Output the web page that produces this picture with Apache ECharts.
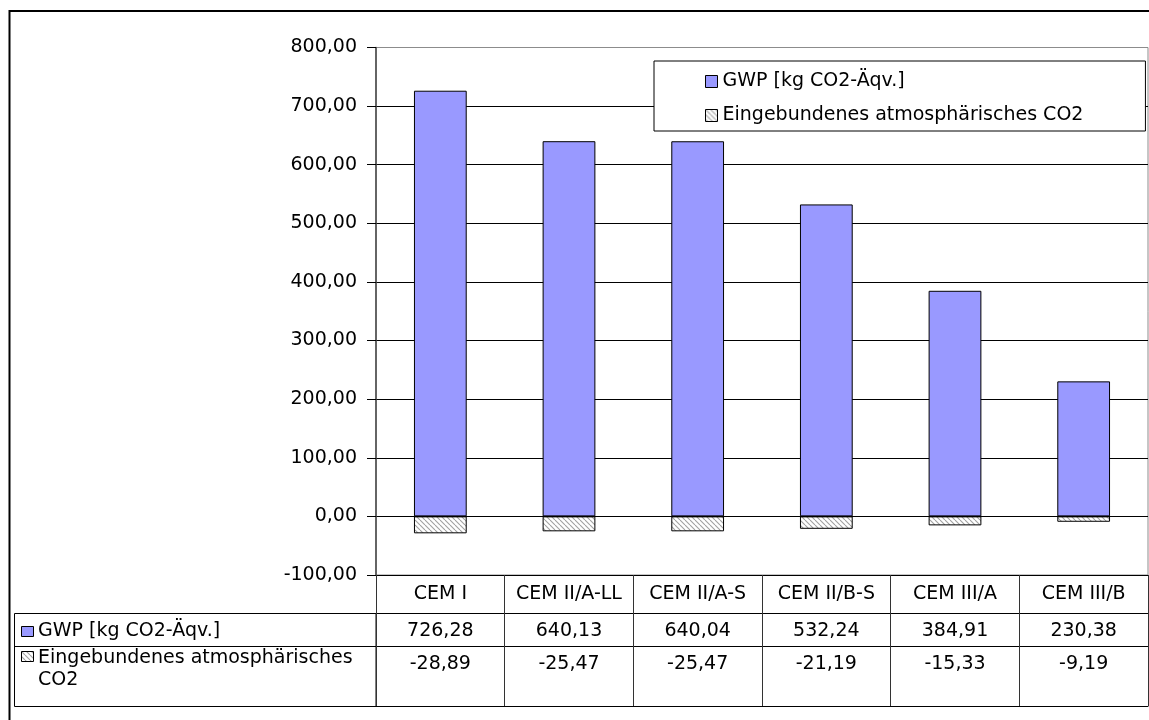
<!DOCTYPE html>
<html>
<head>
<meta charset="utf-8">
<script src="https://cdn.jsdelivr.net/npm/echarts@6/dist/echarts.min.js"></script>
<style>
  html, body { margin: 0; padding: 0; background: #fff; }
  #chart { width: 1149px; height: 720px; }
</style>
</head>
<body>
<div id="chart"></div>
<script>
// Cement types and their emission figures
const categories = ['CEM I', 'CEM II/A-LL', 'CEM II/A-S', 'CEM II/B-S', 'CEM III/A', 'CEM III/B'];
const gwpName = 'GWP [kg CO2-Äqv.]';
const co2Name = 'Eingebundenes atmosphärisches CO2';
const co2RowLabel = 'Eingebundenes atmosphärisches\nCO2';
const gwpValues = [726.28, 640.13, 640.04, 532.24, 384.91, 230.38];
const co2Values = [-28.89, -25.47, -25.47, -21.19, -15.33, -9.19];
const yMin = -100;
const yMax = 800;
const yStep = 100;

const FONT = 'DejaVu Sans';
const FS = 19;
const fmt = v => v.toFixed(2).replace('.', ',');

// Diagonal hatch used for the bound CO2 series
function hatchPattern() {
  const s = 5;
  const c = document.createElement('canvas');
  c.width = s; c.height = s;
  const g = c.getContext('2d');
  g.fillStyle = '#ffffff';
  g.fillRect(0, 0, s, s);
  g.strokeStyle = '#a0a0a0';
  g.lineWidth = 1.1;
  for (const k of [-s, 0, s]) {
    g.beginPath();
    g.moveTo(k, 0);
    g.lineTo(k + s, s);
    g.stroke();
  }
  return { image: c, repeat: 'repeat' };
}
const hatch = hatchPattern();
const gwpColor = '#9999ff';

const chart = echarts.init(document.getElementById('chart'), null, { renderer: 'canvas' });

// grid geometry (plot area) and data-table row offsets below it
const gridLeft = 376, gridTop = 47.5, gridRight = 1, gridBottom = 145;
const tableTop = 720 - gridBottom;
const rowOffsets = [38, 71, 131];

const nSplit = Math.round((yMax - yMin) / yStep) + 1;
const splitColors = [];
for (let i = 0; i < nSplit; i++) splitColors.push(i === nSplit - 1 ? '#8c8c8c' : '#000000');

const valueAxisBase = {
  type: 'category',
  data: categories,
  position: 'bottom',
  gridIndex: 0,
  axisLine: { show: true, onZero: false, lineStyle: { color: '#000', width: 1 } },
  axisTick: { show: false },
  axisLabel: { interval: 0, color: '#000', fontSize: FS, fontFamily: FONT }
};

const option = {
  animation: false,
  textStyle: { fontFamily: FONT, color: '#000' },
  grid: {
    left: gridLeft, top: gridTop, right: gridRight, bottom: gridBottom,
    show: true, borderColor: '#8c8c8c', borderWidth: 1, backgroundColor: '#fff'
  },
  legend: {
    orient: 'vertical',
    left: 654, top: 61,
    padding: [11, 62, 6, 51],
    itemGap: 15,
    itemWidth: 12, itemHeight: 12,
    icon: 'rect',
    backgroundColor: '#fff',
    borderColor: '#000', borderWidth: 1,
    textStyle: { fontSize: FS, fontFamily: FONT, color: '#000' },
    data: [
      { name: gwpName, itemStyle: { color: gwpColor, borderColor: '#000', borderWidth: 1 } },
      { name: co2Name, itemStyle: { color: hatch, borderColor: '#000', borderWidth: 1 } }
    ]
  },
  xAxis: [
    {
      type: 'category',
      data: categories,
      position: 'bottom',
      axisLine: { show: true, onZero: false, lineStyle: { color: '#000', width: 1 } },
      axisTick: { show: true, length: rowOffsets[2], lineStyle: { color: '#333', width: 1 } },
      axisLabel: { interval: 0, margin: 10, color: '#000', fontSize: FS, fontFamily: FONT },
      splitLine: { show: false }
    },
    Object.assign({}, valueAxisBase, {
      offset: rowOffsets[0],
      axisLabel: Object.assign({}, valueAxisBase.axisLabel, {
        margin: 9, formatter: (v, i) => fmt(gwpValues[i])
      })
    }),
    Object.assign({}, valueAxisBase, {
      offset: rowOffsets[1],
      axisLabel: Object.assign({}, valueAxisBase.axisLabel, {
        margin: 9, formatter: (v, i) => fmt(co2Values[i])
      })
    }),
    Object.assign({}, valueAxisBase, {
      offset: rowOffsets[2],
      axisLabel: { show: false }
    })
  ],
  yAxis: {
    type: 'value',
    min: yMin, max: yMax, interval: yStep,
    axisLine: { show: true, lineStyle: { color: '#444', width: 1.5 } },
    axisTick: { show: true, length: 9, lineStyle: { color: '#000' } },
    axisLabel: { margin: 19, color: '#000', fontSize: FS, fontFamily: FONT, formatter: v => fmt(v) },
    splitLine: { show: true, lineStyle: { color: splitColors, width: 1 } }
  },
  series: [
    {
      name: gwpName, type: 'bar', stack: 'total', barWidth: '41%',
      xAxisIndex: 0, data: gwpValues,
      itemStyle: { color: gwpColor, borderColor: '#000', borderWidth: 1 }
    },
    {
      name: co2Name, type: 'bar', stack: 'total', barWidth: '41%',
      xAxisIndex: 0, data: co2Values,
      itemStyle: { color: hatch, borderColor: '#000', borderWidth: 1 }
    }
  ],
  graphic: [
    // outer chart frame
    { type: 'rect', silent: true, z: 100,
      shape: { x: 9.5, y: 11, width: 1200, height: 800 },
      style: { fill: null, stroke: '#000', lineWidth: 2 } },
    // row header cells of the data table
    { type: 'rect', silent: true,
      shape: { x: 14.5, y: tableTop + rowOffsets[0] + 0.5, width: gridLeft - 14.5, height: rowOffsets[2] - rowOffsets[0] },
      style: { fill: null, stroke: '#000', lineWidth: 1 } },
    { type: 'line', silent: true,
      shape: { x1: 14.5, y1: tableTop + rowOffsets[1] + 0.5, x2: gridLeft, y2: tableTop + rowOffsets[1] + 0.5 },
      style: { stroke: '#000', lineWidth: 1 } },
    { type: 'rect', silent: true,
      shape: { x: 21.5, y: 626.5, width: 12, height: 10 },
      style: { fill: gwpColor, stroke: '#000', lineWidth: 1 } },
    { type: 'text', silent: true,
      style: { x: 38, y: 631.5, text: gwpName, fontSize: FS, fontFamily: FONT, fill: '#000', verticalAlign: 'middle' } },
    { type: 'rect', silent: true,
      shape: { x: 21.5, y: 651.5, width: 12, height: 10 },
      style: { fill: hatch, stroke: '#000', lineWidth: 1 } },
    { type: 'text', silent: true,
      style: { x: 38, y: 647, text: co2RowLabel, fontSize: FS, lineHeight: 22, fontFamily: FONT, fill: '#000', verticalAlign: 'top' } }
  ]
};

chart.setOption(option);
</script>
</body>
</html>
